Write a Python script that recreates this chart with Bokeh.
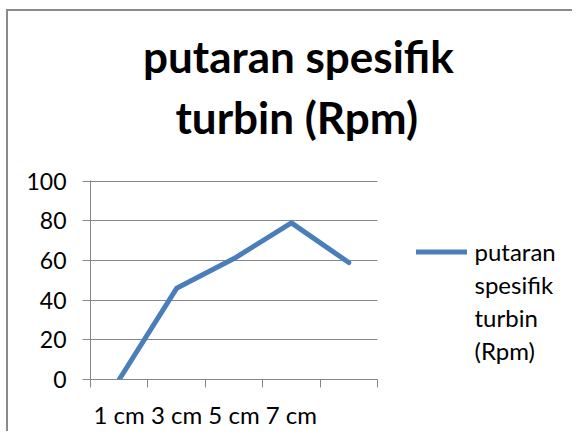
from bokeh.plotting import figure
from bokeh.models import Range1d, FixedTicker, Legend, LegendItem, Title
from bokeh.embed import file_html
from bokeh.resources import INLINE

# ---- data ----
title_lines = ["putaran spesifik", "turbin (Rpm)"]
categories = ["1 cm", "3 cm", "5 cm", "7 cm"]
x_positions = [1, 2, 3, 4, 5]
rpm_values = [0, 46, 61, 79, 59]
y_ticks = [0, 20, 40, 60, 80, 100]
legend_lines = ["putaran", "spesifik", "turbin", "(Rpm)"]

FONT = "Lato"
GRID = "#868686"
BLUE = "#4A7EBB"
EDGE = "#8a8a8a"

# layout (pixels)
W, H = 572, 431
LEFT, TOP, BOTTOM = 90, 180, 50
PLOT_W = 287                      # width of the gridded plot area
FRAME_W = W - LEFT                # frame also holds the legend area on the right
x_lo = x_positions[0] - 0.5
x_hi_plot = x_positions[-1] + 0.5
x_hi = x_lo + (x_hi_plot - x_lo) * FRAME_W / PLOT_W

p = figure(width=W, height=H, output_backend="svg", toolbar_location=None,
           x_range=Range1d(x_lo, x_hi), y_range=Range1d(0, 100.4),
           min_border_left=LEFT, min_border_right=0, min_border_top=TOP,
           min_border_bottom=BOTTOM)
p.outline_line_color = None
p.background_fill_color = "white"
p.border_fill_color = None
p.styles = {
    "background-image": f"linear-gradient({EDGE}, {EDGE}), linear-gradient({EDGE}, {EDGE})",
    "background-position": "6px 9px, 6px 9px",
    "background-size": "2px 100%, 100% 2px",
    "background-repeat": "no-repeat",
}

# bottom axis: category boundaries as ticks, one joined text label
bounds = [x - 0.5 for x in x_positions] + [x_positions[-1] + 0.5]
p.xaxis.bounds = (x_lo, x_hi_plot)
p.xaxis.ticker = FixedTicker(ticks=bounds)
overrides = {b: "" for b in bounds}
overrides[bounds[2]] = " ".join(categories)
p.xaxis.major_label_overrides = overrides
p.xaxis.major_label_text_font = FONT
p.xaxis.major_label_text_font_size = "24px"
p.xaxis.major_label_text_color = "black"
p.xaxis.major_label_standoff = 12
p.xaxis.axis_line_color = GRID
p.xaxis.major_tick_line_color = GRID
p.xaxis.major_tick_out = 8
p.xaxis.major_tick_in = 0
p.xaxis.minor_tick_line_color = None

# left axis
p.yaxis.ticker = FixedTicker(ticks=y_ticks)
p.yaxis.axis_line_color = GRID
p.yaxis.major_tick_line_color = GRID
p.yaxis.major_tick_out = 8
p.yaxis.major_tick_in = 0
p.yaxis.minor_tick_line_color = None
p.yaxis.major_label_text_font = FONT
p.yaxis.major_label_text_font_size = "23px"
p.yaxis.major_label_text_color = "black"
p.yaxis.major_label_standoff = 16

p.xgrid.grid_line_color = None
p.ygrid.grid_line_color = GRID
p.ygrid.ticker = FixedTicker(ticks=y_ticks)
p.ygrid.cross_bounds = (x_lo, x_hi_plot)

# title: spacer + two lines stacked above the plot area
p.title.text = ""
p.add_layout(Title(text=" ", text_font_size="1px", standoff=35), "above")
p.add_layout(Title(text=title_lines[1], align="left", offset=85, standoff=0,
                   vertical_align="bottom", text_font=FONT, text_font_style="bold",
                   text_font_size="44px", text_color="black"), "above")
p.add_layout(Title(text=title_lines[0], align="left", offset=52.5, standoff=13,
                   vertical_align="bottom", text_font=FONT, text_font_style="bold",
                   text_font_size="44px", text_color="black"), "above")

r = p.line(x_positions, rpm_values, line_color=BLUE, line_width=5,
           line_join="round", line_cap="round")

items = [LegendItem(label=legend_lines[0], renderers=[r])]
items += [LegendItem(label=t, renderers=[]) for t in legend_lines[1:]]
legend = Legend(items=items, location=(325.5, 12.5), padding=0, margin=0, spacing=0,
                glyph_width=51, glyph_height=33, label_height=33, label_standoff=8,
                label_text_font=FONT, label_text_font_size="24px", label_text_color="black",
                border_line_color=None, background_fill_alpha=0)
p.add_layout(legend, "center")

open("out.html", "w").write(file_html(p, INLINE))
